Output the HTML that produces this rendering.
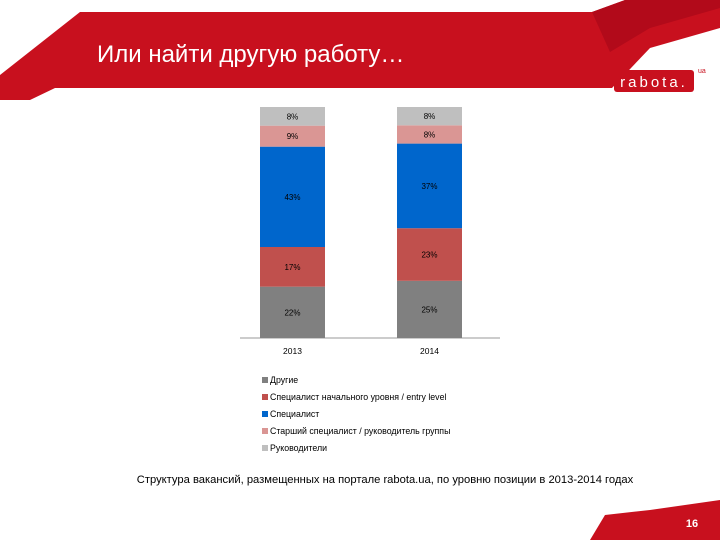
<!DOCTYPE html>
<html><head><meta charset="utf-8"><style>
body{margin:0;width:720px;height:540px;overflow:hidden;background:#fff;font-family:"Liberation Sans","Noto Sans CJK SC",sans-serif;}
svg{display:block}
</style></head><body>
<svg id="s" width="720" height="540" xmlns="http://www.w3.org/2000/svg">
<polygon points="80,12 592,12 625,0 720,0 720,28 650,48 612,88 55,88 30,100 0,100 0,75" fill="#c8101e"/>
<polygon points="592,12 625,0 720,0 720,8 650,28 610,52" fill="#b20a1a"/>
<text x="97" y="62" fill="#fff" font-size="24">Или найти другую работу…</text>
<g>
<rect x="614" y="70" width="80" height="22" rx="3" fill="#c8101e"/>
<text x="654" y="87" fill="#fff" font-size="15" text-anchor="middle" letter-spacing="3">rabota.</text>
<text x="698" y="73" fill="#c8101e" font-size="7">ua</text>
</g>
<line x1="240" y1="338" x2="500" y2="338" stroke="#999"/>
<g id="bars"></g>
<g id="legend"></g>
<text x="385" y="483" font-size="11.2" text-anchor="middle" fill="#000">Структура вакансий, размещенных на портале rabota.ua, по уровню позиции в 2013-2014 годах</text>
<polygon points="590,540 605,515 650,510 720,500 720,540" fill="#c8101e"/>
<text x="692" y="527" fill="#fff" font-size="11" font-weight="bold" text-anchor="middle">16</text>
</svg>
<script>
const categories=["2013","2014"];
const seriesNames=["Другие","Специалист начального уровня / entry level","Специалист","Старший специалист / руководитель группы","Руководители"];
const others=[22,25];
const entry=[17,23];
const specialist=[43,37];
const senior=[9,8];
const heads=[8,8];
const series=[others,entry,specialist,senior,heads];
const colors=["#808080","#c0504d","#0066cc","#da9694","#bfbfbf"];
const ns="http://www.w3.org/2000/svg";
const base=338,top0=107,plotH=base-top0;
const xPos=i=>260+i*137, bw=65;
const bars=document.getElementById('bars');
categories.forEach((c,i)=>{
  let sum=series.reduce((a,s)=>a+s[i],0);
  let y=base;
  series.forEach((s,k)=>{
    const h=s[i]/sum*plotH;
    const r=document.createElementNS(ns,'rect');
    r.setAttribute('x',xPos(i));r.setAttribute('y',y-h);r.setAttribute('width',bw);r.setAttribute('height',h);r.setAttribute('fill',colors[k]);
    
    
    bars.appendChild(r);
    const t=document.createElementNS(ns,'text');
    t.setAttribute('x',xPos(i)+bw/2);t.setAttribute('y',y-h/2+3);t.setAttribute('font-size','8');t.setAttribute('text-anchor','middle');
    t.textContent=s[i]+'%';
    
    
    bars.appendChild(t);
    y-=h;
  });
  const l=document.createElementNS(ns,'text');
  l.setAttribute('x',xPos(i)+bw/2);l.setAttribute('y',354);l.setAttribute('font-size','8.5');l.setAttribute('text-anchor','middle');
  l.textContent=c;
  
  
  bars.appendChild(l);
});
const lg=document.getElementById('legend');
seriesNames.forEach((n,k)=>{
  const y=380+k*17;
  const r=document.createElementNS(ns,'rect');
  r.setAttribute('x',262);r.setAttribute('y',y-3);r.setAttribute('width',6);r.setAttribute('height',6);r.setAttribute('fill',colors[k]);
  
  
  lg.appendChild(r);
  const t=document.createElementNS(ns,'text');
  t.setAttribute('x',270);t.setAttribute('y',y+3);t.setAttribute('font-size','8.8');
  t.textContent=n;
  
  
  lg.appendChild(t);
});
</script>
</body></html>
